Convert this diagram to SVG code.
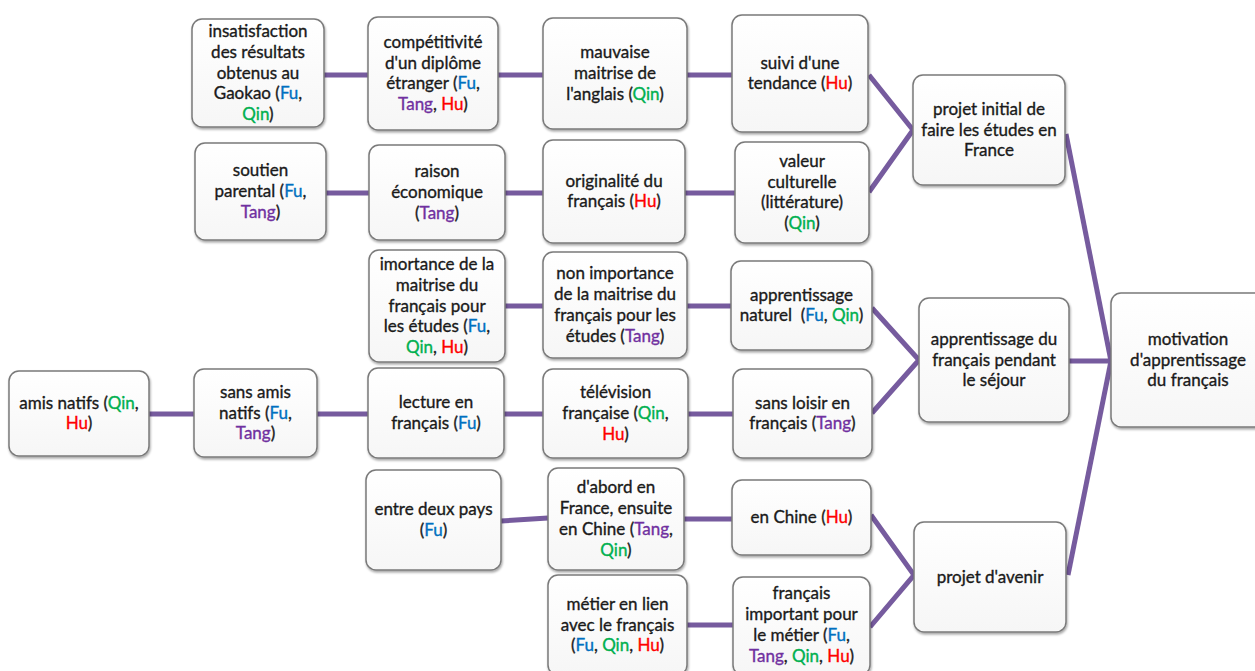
<svg xmlns="http://www.w3.org/2000/svg" width="1255" height="671" viewBox="0 0 1255 671">
<defs>
<linearGradient id="bg" x1="0" y1="0" x2="0" y2="1"><stop offset="0" stop-color="#ffffff"/><stop offset="1" stop-color="#f6f6f6"/></linearGradient>
<filter id="sh" x="-10%" y="-10%" width="120%" height="130%"><feDropShadow dx="0.8" dy="1.8" stdDeviation="1" flood-color="#000" flood-opacity="0.35"/></filter>
<style>
.b{fill:url(#bg);stroke:#7a7a7a;stroke-width:1.5;filter:url(#sh)}
.t{font-family:Lato,"Liberation Sans",sans-serif;font-size:17px;fill:#1a1a1a;stroke:#1a1a1a;stroke-width:0.35px;text-anchor:middle}
.fu{fill:#0070C0;stroke:#0070C0}.qin{fill:#00B050;stroke:#00B050}.tang{fill:#7030A0;stroke:#7030A0}.hu{fill:#FF0000;stroke:#FF0000}
.c{stroke:#765b9e;stroke-width:5;fill:none;stroke-linecap:butt}
</style>
</defs>
<rect width="1255" height="671" fill="#ffffff"/>
<g id="connectors">
<line class="c" x1="324" y1="75" x2="368" y2="75"/>
<line class="c" x1="498" y1="75" x2="543" y2="75"/>
<line class="c" x1="687" y1="75" x2="732" y2="75"/>
<line class="c" x1="326" y1="193" x2="369" y2="193"/>
<line class="c" x1="505" y1="193" x2="543" y2="193"/>
<line class="c" x1="685" y1="193" x2="735" y2="193"/>
<polyline class="c" points="869,75 913,130 869,192"/>
<line class="c" x1="505" y1="306" x2="543" y2="306"/>
<line class="c" x1="687" y1="306" x2="731" y2="306"/>
<polyline class="c" points="872,308 919,360 872,413"/>
<line class="c" x1="149" y1="414" x2="194" y2="414"/>
<line class="c" x1="317" y1="414" x2="368" y2="414"/>
<line class="c" x1="504" y1="414" x2="543" y2="414"/>
<line class="c" x1="688" y1="414" x2="733" y2="414"/>
<line class="c" x1="501" y1="521" x2="548" y2="518"/>
<line class="c" x1="684" y1="519" x2="732" y2="519"/>
<polyline class="c" points="871,515 914,575 870,627"/>
<line class="c" x1="687" y1="625" x2="733" y2="625"/>
<line class="c" x1="1066" y1="134" x2="1111" y2="361"/>
<line class="c" x1="1069" y1="361" x2="1111" y2="361"/>
<line class="c" x1="1068" y1="575" x2="1111" y2="361"/>
</g>
<g id="n1"><rect class="b" x="192" y="19" width="132" height="108" rx="10"/>
<text class="t"><tspan x="258" y="37.1">insatisfaction</tspan><tspan x="258" y="57.8">des résultats</tspan><tspan x="258" y="78.5">obtenus au</tspan><tspan x="258" y="99.2">Gaokao (<tspan class="fu">Fu</tspan>,</tspan><tspan x="258" y="119.9"><tspan class="qin">Qin</tspan>)</tspan></text></g>
<g id="n2"><rect class="b" x="368" y="17" width="130" height="113" rx="10"/>
<text class="t"><tspan x="433" y="48">compétitivité</tspan><tspan x="433" y="68.7">d'un diplôme</tspan><tspan x="433" y="89.4">étranger (<tspan class="fu">Fu</tspan>,</tspan><tspan x="433" y="110.1"><tspan class="tang">Tang</tspan>, <tspan class="hu">Hu</tspan>)</tspan></text></g>
<g id="n3"><rect class="b" x="543" y="18" width="144" height="111" rx="10"/>
<text class="t"><tspan x="615" y="58.3">mauvaise</tspan><tspan x="615" y="79">maitrise de</tspan><tspan x="615" y="99.7">l'anglais (<tspan class="qin">Qin</tspan>)</tspan></text></g>
<g id="n4"><rect class="b" x="732" y="15" width="136" height="117" rx="10"/>
<text class="t"><tspan x="800" y="68.65">suivi d'une</tspan><tspan x="800" y="89.35">tendance (<tspan class="hu">Hu</tspan>)</tspan></text></g>
<g id="n5"><rect class="b" x="195" y="143" width="131" height="97" rx="10"/>
<text class="t"><tspan x="260.5" y="176.3">soutien</tspan><tspan x="260.5" y="197">parental (<tspan class="fu">Fu</tspan>,</tspan><tspan x="260.5" y="217.7"><tspan class="tang">Tang</tspan>)</tspan></text></g>
<g id="n6"><rect class="b" x="369" y="145" width="136" height="95" rx="10"/>
<text class="t"><tspan x="437" y="177.3">raison</tspan><tspan x="437" y="198">économique</tspan><tspan x="437" y="218.7">(<tspan class="tang">Tang</tspan>)</tspan></text></g>
<g id="n7"><rect class="b" x="543" y="140" width="142" height="103" rx="10"/>
<text class="t"><tspan x="614" y="186.65">originalité du</tspan><tspan x="614" y="207.35">français (<tspan class="hu">Hu</tspan>)</tspan></text></g>
<g id="n8"><rect class="b" x="735" y="142" width="134" height="101" rx="10"/>
<text class="t"><tspan x="802" y="166.95">valeur</tspan><tspan x="802" y="187.65">culturelle</tspan><tspan x="802" y="208.35">(littérature)</tspan><tspan x="802" y="229.05">(<tspan class="qin">Qin</tspan>)</tspan></text></g>
<g id="n9"><rect class="b" x="913" y="75" width="152" height="110" rx="10"/>
<text class="t"><tspan x="989" y="114.8">projet initial de</tspan><tspan x="989" y="135.5">faire les études en</tspan><tspan x="989" y="156.2">France</tspan></text></g>
<g id="n10"><rect class="b" x="369" y="250" width="136" height="112" rx="10"/>
<text class="t"><tspan x="437" y="270.1">imortance de la</tspan><tspan x="437" y="290.8">maitrise du</tspan><tspan x="437" y="311.5">français pour</tspan><tspan x="437" y="332.2">les études (<tspan class="fu">Fu</tspan>,</tspan><tspan x="437" y="352.9"><tspan class="qin">Qin</tspan>, <tspan class="hu">Hu</tspan>)</tspan></text></g>
<g id="n11"><rect class="b" x="543" y="252" width="144" height="106" rx="10"/>
<text class="t"><tspan x="615" y="279.45">non importance</tspan><tspan x="615" y="300.15">de la maitrise du</tspan><tspan x="615" y="320.85">français pour les</tspan><tspan x="615" y="341.55">études (<tspan class="tang">Tang</tspan>)</tspan></text></g>
<g id="n12"><rect class="b" x="731" y="261" width="141" height="89" rx="10"/>
<text class="t" xml:space="preserve"><tspan x="801.5" y="300.65">apprentissage</tspan><tspan x="801.5" y="321.35">naturel  (<tspan class="fu">Fu</tspan>, <tspan class="qin">Qin</tspan>)</tspan></text></g>
<g id="n13"><rect class="b" x="919" y="298" width="150" height="124" rx="10"/>
<text class="t"><tspan x="994" y="344.8">apprentissage du</tspan><tspan x="994" y="365.5">français pendant</tspan><tspan x="994" y="386.2">le séjour</tspan></text></g>
<g id="n14"><rect class="b" x="1111" y="293" width="154" height="134" rx="10"/>
<text class="t"><tspan x="1188" y="344.8">motivation</tspan><tspan x="1188" y="365.5">d'apprentissage</tspan><tspan x="1188" y="386.2">du français</tspan></text></g>
<g id="n15"><rect class="b" x="9" y="371" width="140" height="85" rx="10"/>
<text class="t"><tspan x="79" y="408.65">amis natifs (<tspan class="qin">Qin</tspan>,</tspan><tspan x="79" y="429.35"><tspan class="hu">Hu</tspan>)</tspan></text></g>
<g id="n16"><rect class="b" x="194" y="369" width="123" height="88" rx="10"/>
<text class="t"><tspan x="255.5" y="397.8">sans amis</tspan><tspan x="255.5" y="418.5">natifs (<tspan class="fu">Fu</tspan>,</tspan><tspan x="255.5" y="439.2"><tspan class="tang">Tang</tspan>)</tspan></text></g>
<g id="n17"><rect class="b" x="368" y="368" width="136" height="90" rx="10"/>
<text class="t"><tspan x="436" y="408.15">lecture en</tspan><tspan x="436" y="428.85">français (<tspan class="fu">Fu</tspan>)</tspan></text></g>
<g id="n18"><rect class="b" x="543" y="369" width="145" height="89" rx="10"/>
<text class="t"><tspan x="615.5" y="398.3">télévision</tspan><tspan x="615.5" y="419">française (<tspan class="qin">Qin</tspan>,</tspan><tspan x="615.5" y="439.7"><tspan class="hu">Hu</tspan>)</tspan></text></g>
<g id="n19"><rect class="b" x="733" y="369" width="139" height="89" rx="10"/>
<text class="t"><tspan x="802.5" y="408.65">sans loisir en</tspan><tspan x="802.5" y="429.35">français (<tspan class="tang">Tang</tspan>)</tspan></text></g>
<g id="n20"><rect class="b" x="366" y="470" width="135" height="100" rx="10"/>
<text class="t"><tspan x="433.5" y="515.15">entre deux pays</tspan><tspan x="433.5" y="535.85">(<tspan class="fu">Fu</tspan>)</tspan></text></g>
<g id="n21"><rect class="b" x="548" y="468" width="136" height="102" rx="10"/>
<text class="t"><tspan x="616" y="493.45">d'abord en</tspan><tspan x="616" y="514.15">France, ensuite</tspan><tspan x="616" y="534.85">en Chine (<tspan class="tang">Tang</tspan>,</tspan><tspan x="616" y="555.55"><tspan class="qin">Qin</tspan>)</tspan></text></g>
<g id="n22"><rect class="b" x="732" y="480" width="139" height="75" rx="10"/>
<text class="t"><tspan x="801.5" y="523">en Chine (<tspan class="hu">Hu</tspan>)</tspan></text></g>
<g id="n23"><rect class="b" x="914" y="522" width="152" height="110" rx="10"/>
<text class="t"><tspan x="990" y="582.5">projet d'avenir</tspan></text></g>
<g id="n24"><rect class="b" x="548" y="575" width="139" height="100" rx="10"/>
<text class="t"><tspan x="617.5" y="609.8">métier en lien</tspan><tspan x="617.5" y="630.5">avec le français</tspan><tspan x="617.5" y="651.2">(<tspan class="fu">Fu</tspan>, <tspan class="qin">Qin</tspan>, <tspan class="hu">Hu</tspan>)</tspan></text></g>
<g id="n25"><rect class="b" x="733" y="577" width="137" height="98" rx="10"/>
<text class="t"><tspan x="801.5" y="599.45">français</tspan><tspan x="801.5" y="620.15">important pour</tspan><tspan x="801.5" y="640.85">le métier (<tspan class="fu">Fu</tspan>,</tspan><tspan x="801.5" y="661.55"><tspan class="tang">Tang</tspan>, <tspan class="qin">Qin</tspan>, <tspan class="hu">Hu</tspan>)</tspan></text></g>
</svg>
